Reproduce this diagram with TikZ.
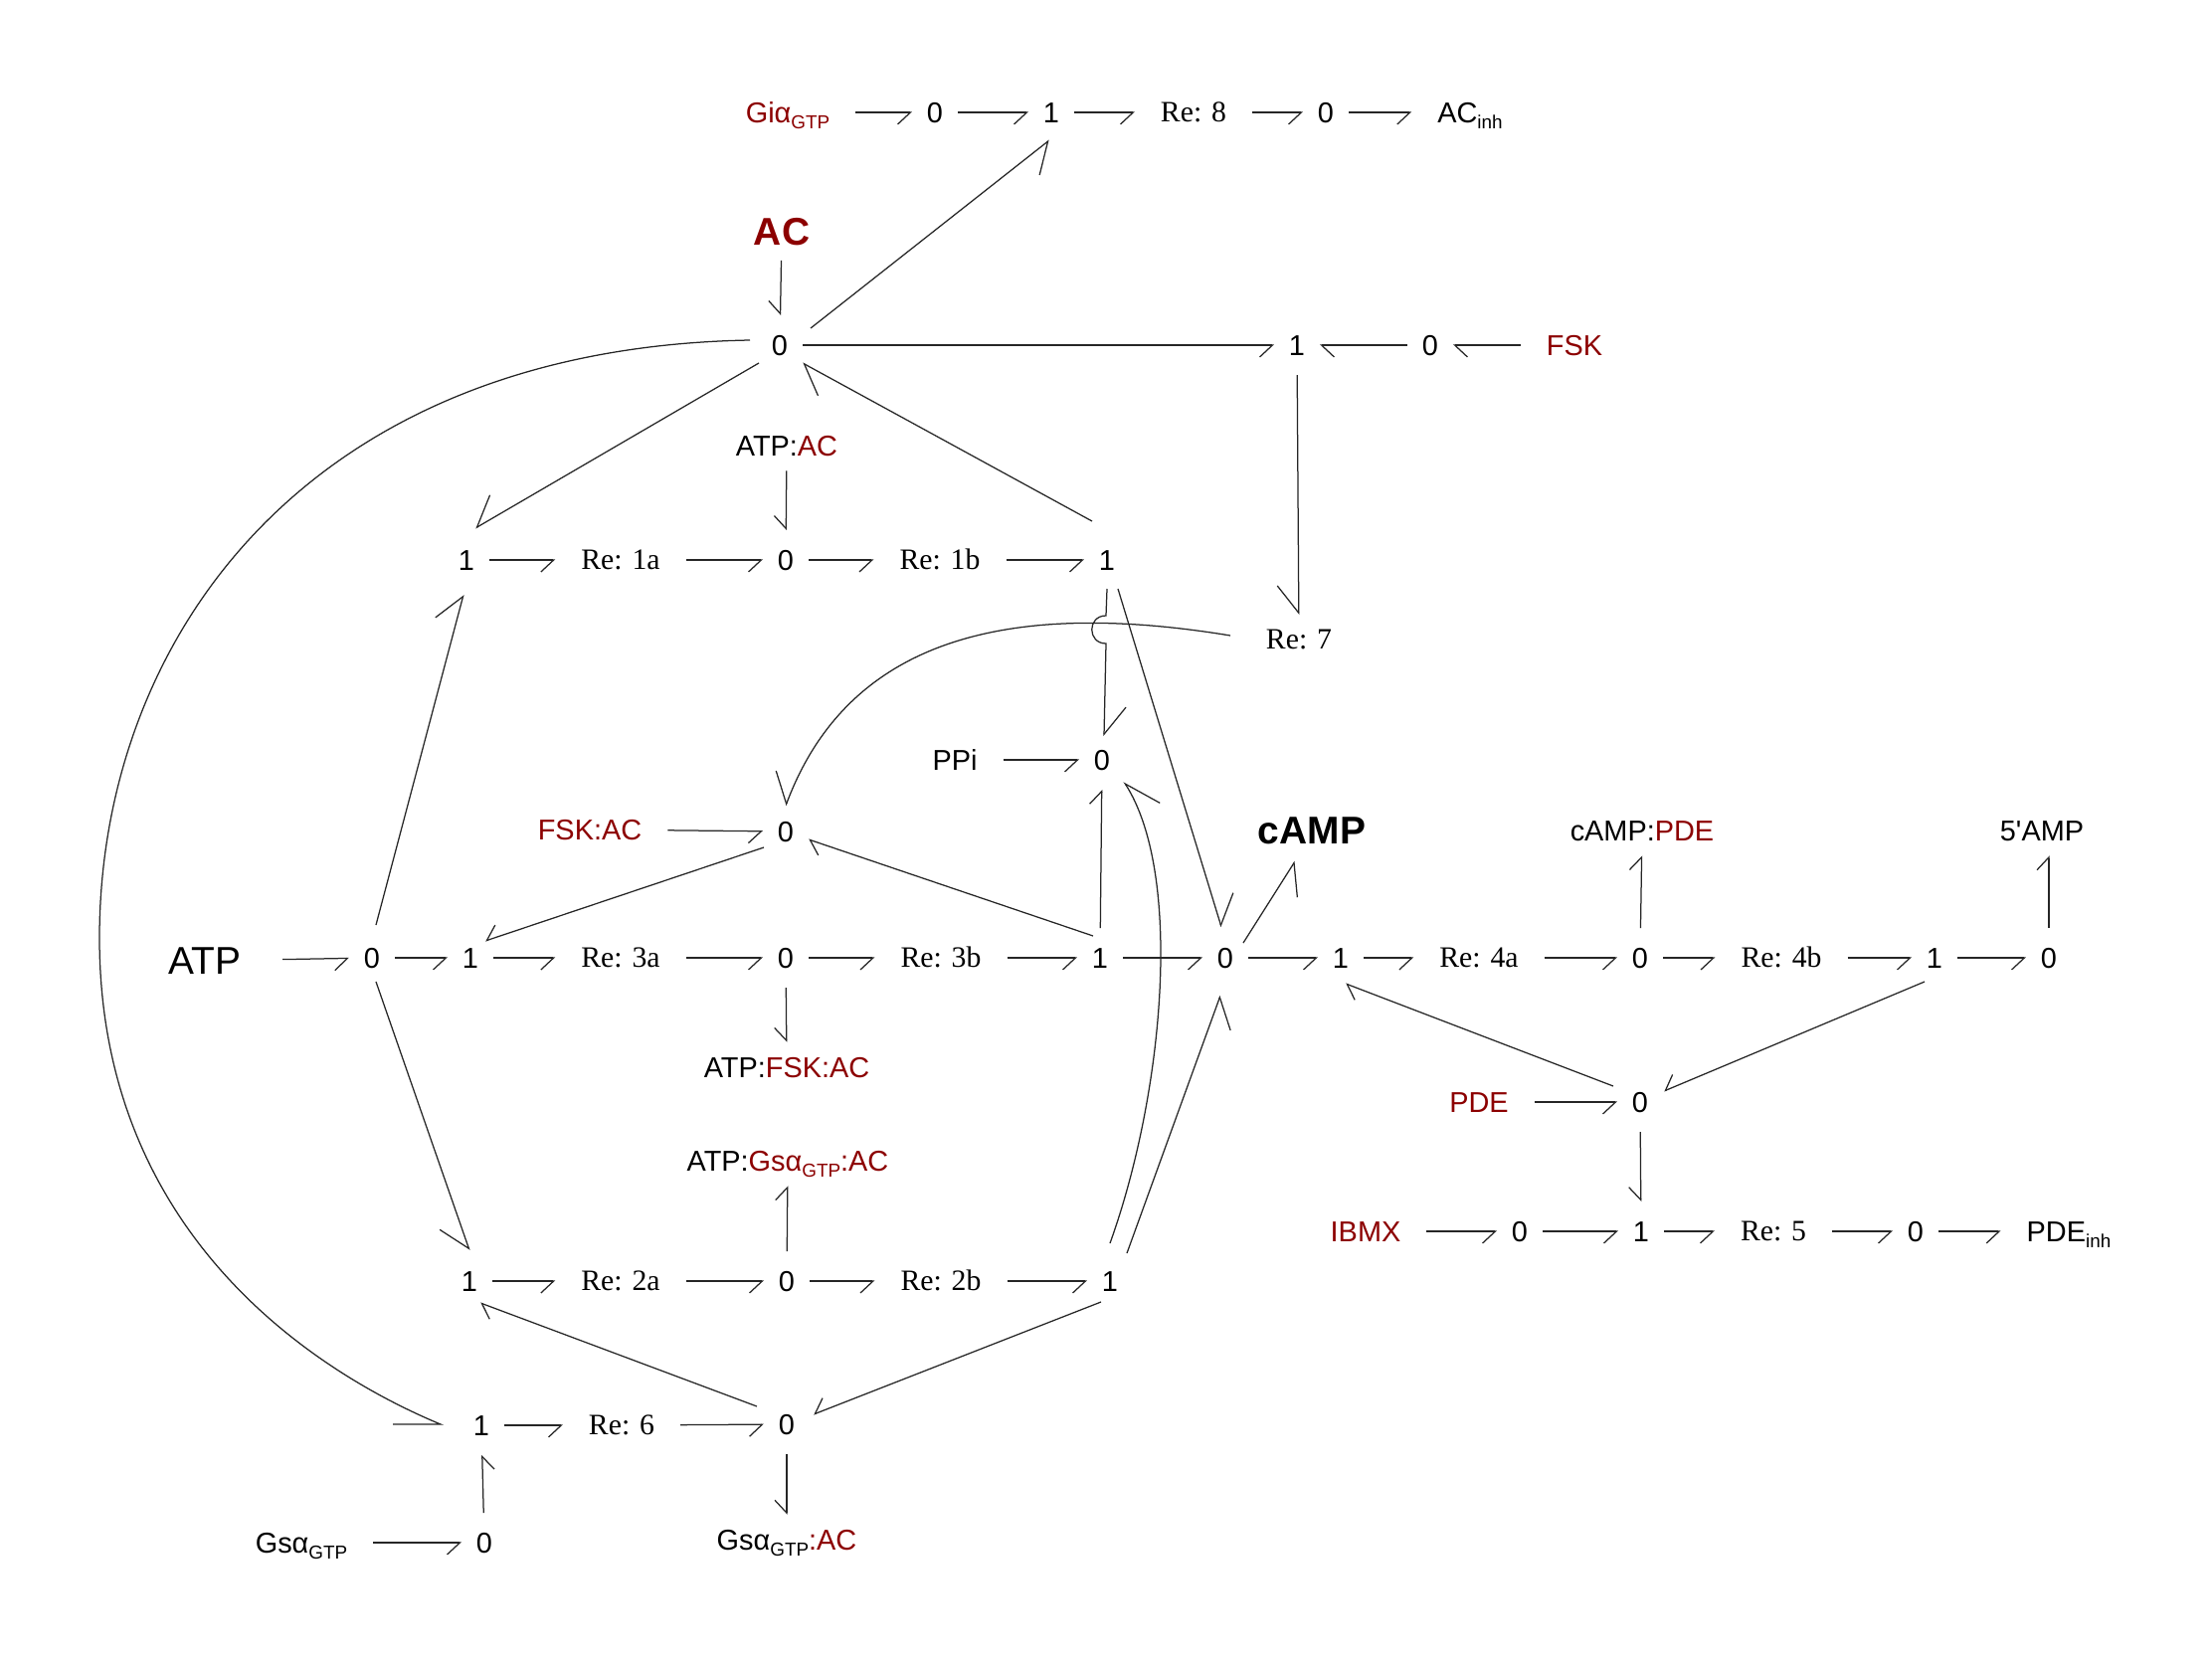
\documentclass[tikz,border=0pt]{standalone}
\usepackage{fontspec}
\setmainfont{Liberation Sans}
\newfontfamily\refont{Liberation Serif}
\usetikzlibrary{arrows.meta}
\definecolor{mred}{RGB}{140,0,0}
\newcommand\sbs[1]{\raisebox{-2.2pt}{\fontsize{6.8}{8}\selectfont #1}}
\begin{document}
\begin{tikzpicture}[x=0.36pt,y=-0.36pt,
  every node/.style={inner sep=0pt, outer sep=0pt},
  lbl/.style={inner xsep=9.4pt, inner ysep=5.4pt, text height=7.4pt, text depth=0pt, font=\fontsize{10.4}{12}\selectfont},
  dig/.style={minimum width=16.6pt, minimum height=21.6pt, text height=7.4pt, text depth=0pt, font=\fontsize{10.4}{12}\selectfont},
  rel/.style={lbl, font=\refont\fontsize{10.7}{12}\selectfont, text height=7.1pt},
  big/.style={lbl, font=\fontsize{14}{16}\selectfont, text height=10pt},
  bigb/.style={lbl, font=\bfseries\fontsize{14}{16}\selectfont, text height=10pt},
  conn/.style={line width=0.45pt, draw=black!85},
  hr/.style={-{Straight Barb[harpoon,swap,length=4.6pt,width=8.6pt]}},
  hl/.style={-{Straight Barb[harpoon,length=4.6pt,width=8.6pt]}},
  Hr/.style={-{Straight Barb[harpoon,swap,length=9.9pt,width=15.4pt]}},
  Hl/.style={-{Straight Barb[harpoon,length=9.9pt,width=15.4pt]}},
  hrc/.style={-{Straight Barb[harpoon,swap,length=12.6pt,width=13.7pt]}}
]
\useasboundingbox (0,0) rectangle (2224,1667);
\fill[white] (0,0) rectangle (2224,1667);
% top row
\node[lbl,text=mred] (gi) at (792,113) {Giα\sbs{GTP}};
\node[dig] (z1) at (940,113) {0};
\node[dig] (o1) at (1057,113) {1};
\node[rel] (re8) at (1200,113) {Re: 8};
\node[dig] (z2) at (1333,113) {0};
\node[lbl] (acinh) at (1478,113) {AC\sbs{inh}};
\node[bigb,text=mred] (ac) at (786,233) {AC};
\node[dig] (zac) at (784,347) {0};
\node[dig] (o7) at (1304,347) {1};
\node[dig] (z7) at (1438,347) {0};
\node[lbl,text=mred] (fsk) at (1583,347) {FSK};
\node[lbl] (atpac) at (791,448) {ATP:{\color{mred}AC}};
% row 1a
\node[dig] (o1a) at (469,563) {1};
\node[rel] (re1a) at (624,563) {Re: 1a};
\node[dig] (z1a) at (790,563) {0};
\node[rel] (re1b) at (945,563) {Re: 1b};
\node[dig] (o1b) at (1113,563) {1};
\node[rel] (re7) at (1306,643) {Re: 7};
\node[lbl] (ppi) at (960,764) {PPi};
\node[dig] (zppi) at (1108,764) {0};
\node[lbl,text=mred] (fskac) at (593,834) {FSK:AC};
\node[dig] (zfsk) at (790,836) {0};
\node[bigb] (camp) at (1319,835) {cAMP};
\node[lbl] (camppde) at (1651,835) {cAMP:{\color{mred}PDE}};
\node[lbl] (amp5) at (2053,835) {5\textquotesingle AMP};
% row 3
\node[big,inner xsep=15pt] (atp) at (206,966) {ATP};
\node[dig] (z3) at (374,963) {0};
\node[dig] (o3) at (473,963) {1};
\node[rel] (re3a) at (624,963) {Re: 3a};
\node[dig] (z3b) at (790,963) {0};
\node[rel] (re3b) at (946,963) {Re: 3b};
\node[dig] (o3b) at (1106,963) {1};
\node[dig] (zc) at (1232,963) {0};
\node[dig] (o4) at (1348,963) {1};
\node[rel] (re4a) at (1487,963) {Re: 4a};
\node[dig] (z4) at (1649,963) {0};
\node[rel] (re4b) at (1791,963) {Re: 4b};
\node[dig] (o4b) at (1945,963) {1};
\node[dig] (z4b) at (2060,963) {0};
\node[lbl] (atpfskac) at (791,1073) {ATP:{\color{mred}FSK:AC}};
\node[lbl,text=mred] (pde) at (1487,1108) {PDE};
\node[dig] (zpde) at (1649,1108) {0};
\node[lbl] (atpgsac) at (792,1167) {ATP:{\color{mred}Gsα\sbs{GTP}:AC}};
% IBMX row
\node[lbl,text=mred] (ibmx) at (1373,1238) {IBMX};
\node[dig] (z5a) at (1528,1238) {0};
\node[dig] (o5) at (1650,1238) {1};
\node[rel] (re5) at (1783,1238) {Re: 5};
\node[dig] (z5b) at (1926,1238) {0};
\node[lbl] (pdeinh) at (2080,1238) {PDE\sbs{inh}};
% row 2
\node[dig] (o2) at (472,1288) {1};
\node[rel] (re2a) at (624,1288) {Re: 2a};
\node[dig] (z2a) at (791,1288) {0};
\node[rel] (re2b) at (946,1288) {Re: 2b};
\node[dig] (o2b) at (1116,1288) {1};
% bottom rows
\node[dig] (o6) at (484,1433) {1};
\node[rel] (re6) at (625,1433) {Re: 6};
\node[dig] (z6) at (791,1432) {0};
\node[lbl] (gsac) at (791,1548) {Gsα\sbs{GTP}{\color{mred}:AC}};
\node[lbl] (gs) at (303,1551) {Gsα\sbs{GTP}};
\node[dig] (z0) at (487,1551) {0};

\begin{scope}[conn]
% top row
\draw[hr] (gi) -- (z1);
\draw[hr] (z1) -- (o1);
\draw[hr] (o1) -- (re8);
\draw[hr] (re8) -- (z2);
\draw[hr] (z2) -- (acinh);
\draw[hr] (ac) -- (zac);
\draw[Hr] ([shift={(31,-17)}]zac.center) -- ([shift={(-2,28)}]o1.center);
\draw[hr] (zac) -- (o7);
\draw[hl] (z7) -- (o7);
\draw[hl] (fsk) -- (z7);
\draw[Hr] (o7) -- (re7);
\draw[Hr] ([shift={(-21,18)}]zac.center) -- ([shift={(9,-32)}]o1a.center);
\draw[Hl] ([shift={(-15,-39)}]o1b.center) -- ([shift={(23,18)}]zac.center);
\draw[hr] (atpac) -- (z1a);
\draw[hr] (o1a) -- (re1a);
\draw[hr] (re1a) -- (z1a);
\draw[hr] (z1a) -- (re1b);
\draw[hr] (re1b) -- (o1b);
\draw[Hl] ([shift={(0,29)}]o1b.center) -- ([shift={(-1,56)}]o1b.center)
   .. controls +(-19,0) and +(-19,0) .. ([shift={(-1,84)}]o1b.center)
   -- ([shift={(2,-24)}]zppi.center);
\draw[Hl] ([shift={(11,29)}]o1b.center) -- ([shift={(-4,-31)}]zc.center);
\draw[Hr] ([shift={(-69,-4)}]re7.center) .. controls +(-237,-39) and +(60,-160) .. ([shift={(0,-26)}]zfsk.center);
\draw[hr] (ppi) -- (zppi);
\draw[hl] (o3b) -- (zppi);
\draw[hrc] ([shift={(0,-38)}]o2b.center) .. controls +(54,-150) and +(60,94) .. ([shift={(22,22)}]zppi.center);
\draw[Hr] ([shift={(17,-28)}]o2b.center) -- ([shift={(-5,38)}]zc.center);
\draw[Hr] ([shift={(4,24)}]z3.center) -- ([shift={(0,-31)}]o2.center);
\draw[Hl] ([shift={(4,-33)}]z3.center) -- ([shift={(-3,35)}]o1a.center);
% row 3
\draw[hr] (atp) -- (z3);
\draw[hr] (z3) -- (o3);
\draw[hr] (o3) -- (re3a);
\draw[hr] (re3a) -- (z3b);
\draw[hr] (z3b) -- (re3b);
\draw[hr] (re3b) -- (o3b);
\draw[hr] (o3b) -- (zc);
\draw[hr] (zc) -- (o4);
\draw[hr] ([shift={(-22,16)}]zfsk.center) -- ([shift={(15,-17)}]o3.center);
\draw[hl] ([shift={(-7,-22)}]o3b.center) -- ([shift={(23,8)}]zfsk.center);
\draw[hr] (fskac) -- (zfsk);
\draw[hr] (z3b) -- (atpfskac);
\draw[Hr] ([shift={(18,-15)}]zc.center) -- ([shift={(-17,31)}]camp.center);
\draw[hr] (o4) -- (re4a);
\draw[hr] (re4a) -- (z4);
\draw[hr] (z4) -- (re4b);
\draw[hr] (re4b) -- (o4b);
\draw[hr] (o4b) -- (z4b);
\draw[hl] (z4) -- (camppde);
\draw[hl] (z4b.north) -- (z4b.north |- amp5.south);
\draw[hl] ([shift={(-27,-16)}]zpde.center) -- ([shift={(5,26)}]o4.center);
\draw[hr] ([shift={(-10,24)}]o4b.center) -- ([shift={(24,-11)}]zpde.center);
\draw[hr] (pde) -- (zpde);
\draw[hr] (zpde) -- (o5);
\draw[hr] (ibmx) -- (z5a);
\draw[hr] (z5a) -- (o5);
\draw[hr] (o5) -- (re5);
\draw[hr] (re5) -- (z5b);
\draw[hr] (z5b) -- (pdeinh);
% row 2
\draw[hl] (z2a) -- (atpgsac);
\draw[hr] (o2) -- (re2a);
\draw[hr] (re2a) -- (z2a);
\draw[hr] (z2a) -- (re2b);
\draw[hr] (re2b) -- (o2b);
\draw[hl] ([shift={(-30,-18)}]z6.center) -- ([shift={(11,22)}]o2.center);
\draw[hr] ([shift={(-9,21)}]o2b.center) -- ([shift={(27,-10)}]z6.center);
% bottom
\draw[hr] (o6) -- (re6);
\draw[hr] (re6) -- (z6);
\draw[hr] (z6) -- (gsac);
\draw[hr] (gs) -- (z0);
\draw[hr] (z0) -- (o6);
% big arc
\draw ([shift={(-30,-5)}]zac.center) .. controls (300,350) and (100,650) .. (100,943)
   .. controls (100,1250) and (330,1385) .. ([shift={(-41,-1)}]o6.center) -- ++(-48,0);
\end{scope}
\end{tikzpicture}
\end{document}
